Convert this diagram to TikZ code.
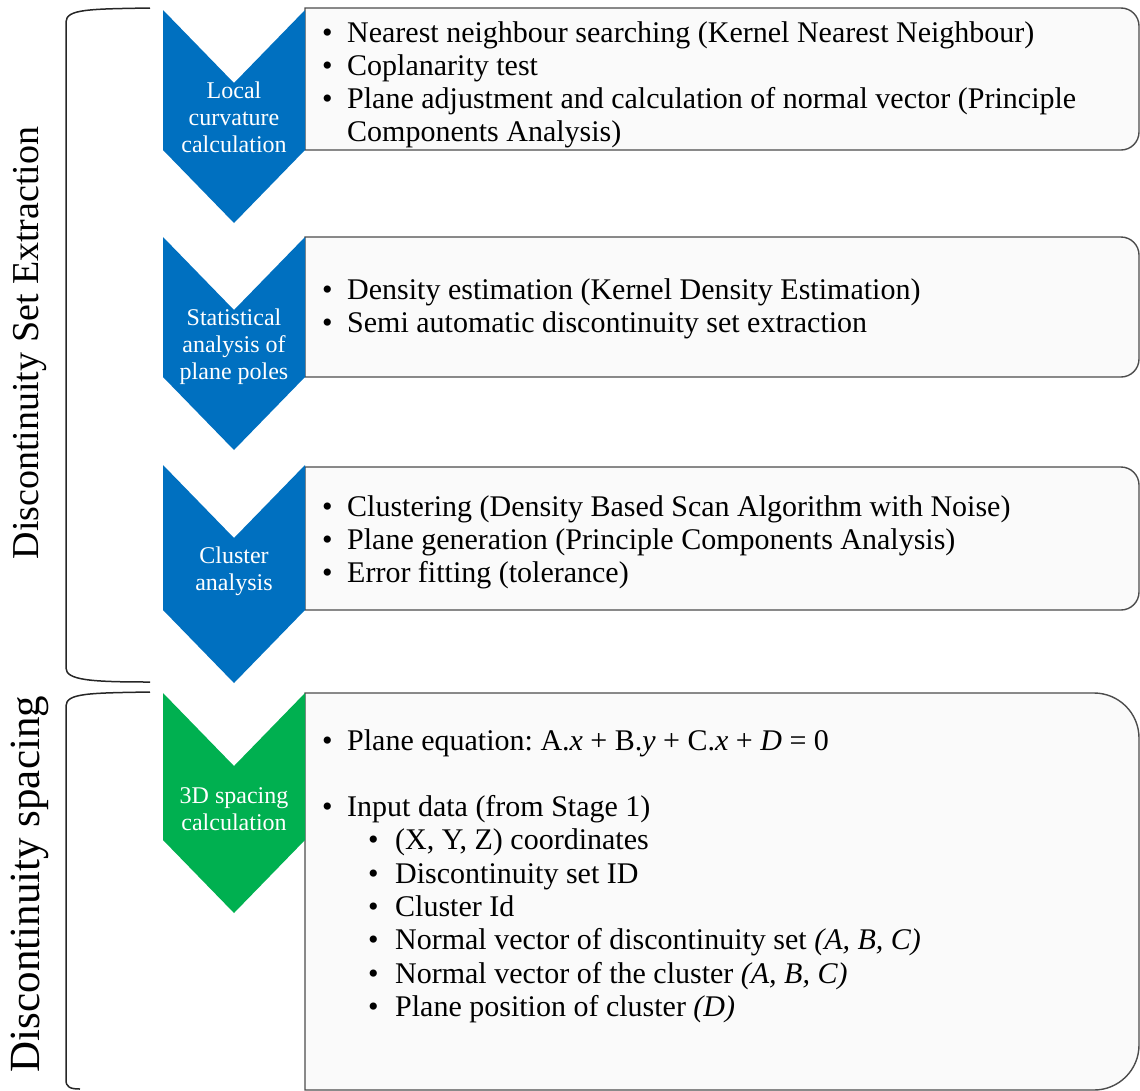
\documentclass[tikz,border=0pt]{standalone}
\usepackage{fontspec}
\setmainfont{Liberation Serif}
\usepackage{array}
\frenchspacing
\definecolor{stageblue}{RGB}{0,112,192}
\definecolor{stagegreen}{RGB}{0,176,80}
\tikzstyle{pane} = [draw=black!70, line width=1.4pt, fill=black!2]
\tikzstyle{chev} = [text=white, align=center, inner sep=0pt,
    font=\fontsize{24}{27}\selectfont]
\tikzstyle{items} = [anchor=base west, inner sep=0pt,
    font=\fontsize{30}{33.3}\selectfont]
\tikzstyle{side} = [rotate=90, inner sep=0pt, font=\fontsize{38}{40}\selectfont]
\tikzstyle{brk} = [draw=black!85, line width=1.5pt]

% chevron: top, length of straight side, colour
\newcommand{\chevshape}[3]{%
  \fill[#3] (163,#1) -- (234,#1+73) -- (305,#1) -- (305,#1+#2)
    -- (234,#1+#2+73) -- (163,#1+#2) -- cycle;}
% box with rounded right corners: top, bottom, radius
\newcommand{\stagebox}[3]{%
  \draw[pane] (305,#2) -- (305,#1) -- (1139-#3,#1)
    arc[start angle=90, end angle=0, radius=#3pt] -- (1139,#2-#3)
    arc[start angle=0, end angle=-90, radius=#3pt] -- cycle;}

\begin{document}
\begin{tikzpicture}[x=1pt,y=-1pt]
  \useasboundingbox (0,0) rectangle (1140,1090);

  \stagebox{8}{150}{18}
  \stagebox{237}{377}{18}
  \stagebox{467}{610}{18}
  \stagebox{693}{1090}{45}

  \chevshape{10}{140}{stageblue}
  \chevshape{237}{140}{stageblue}
  \chevshape{465}{145}{stageblue}
  \chevshape{693}{147}{stagegreen}

  \node[chev] (lcc) at (234,117) {Local\\curvature\\calculation};
  \node[chev] (sap) at (234,347) {Statistical\\analysis of\\plane poles};
  \node[chev] (cla) at (234,571) {Cluster\\analysis};
  \node[chev] (spc) at (234,809) {3D spacing\\calculation};

  \node[items] (list1) at (322,42) {\begin{tabular}[t]{@{}p{25pt}@{}l@{}}
    \textbullet & Nearest neighbour searching (Kernel Nearest Neighbour)\\
    \textbullet & Coplanarity test\\
    \textbullet & Plane adjustment and calculation of normal vector (Principle\\
                & Components Analysis)
  \end{tabular}};
  \node[items] (list2) at (322,299) {\begin{tabular}[t]{@{}p{25pt}@{}l@{}}
    \textbullet & Density estimation (Kernel Density Estimation)\\
    \textbullet & Semi automatic discontinuity set extraction
  \end{tabular}};
  \node[items] (list3) at (322,516) {\begin{tabular}[t]{@{}p{25pt}@{}l@{}}
    \textbullet & Clustering (Density Based Scan Algorithm with Noise)\\
    \textbullet & Plane generation (Principle Components Analysis)\\
    \textbullet & Error fitting (tolerance)
  \end{tabular}};
  \node[items] (list4) at (322,750) {\begin{tabular}[t]{@{}p{25pt}@{}p{48pt}@{}l@{}}
    \textbullet & \multicolumn{2}{@{}l@{}}{Plane equation: A.\textit{x} + B.\textit{y} + C.\textit{x} + \textit{D} = 0}\\
    & & \\
    \textbullet & \multicolumn{2}{@{}l@{}}{Input data (from Stage 1)}\\
    & \hspace*{21pt}\textbullet & (X, Y, Z) coordinates\\
    & \hspace*{21pt}\textbullet & Discontinuity set ID\\
    & \hspace*{21pt}\textbullet & Cluster Id\\
    & \hspace*{21pt}\textbullet & Normal vector of discontinuity set \textit{(A, B, C)}\\
    & \hspace*{21pt}\textbullet & Normal vector of the cluster \textit{(A, B, C)}\\
    & \hspace*{21pt}\textbullet & Plane position of cluster \textit{(D)}
  \end{tabular}};

  % brackets on the left
  \draw[brk] (150,8) .. controls (90,9) and (66,9) .. (66,22) -- (66,668)
    .. controls (66,680) and (90,682) .. (150,682);
  \draw[brk] (150,692) .. controls (90,693) and (66,693) .. (66,706) -- (66,1080)
    .. controls (66,1087) and (70,1089) .. (80,1089);

  \node[side] (dse) at (30,343) {Discontinuity Set Extraction};
  \node[side, font=\fontsize{43}{46}\selectfont] (dsp) at (30,884) {Discontinuity spacing};
\end{tikzpicture}
\end{document}
